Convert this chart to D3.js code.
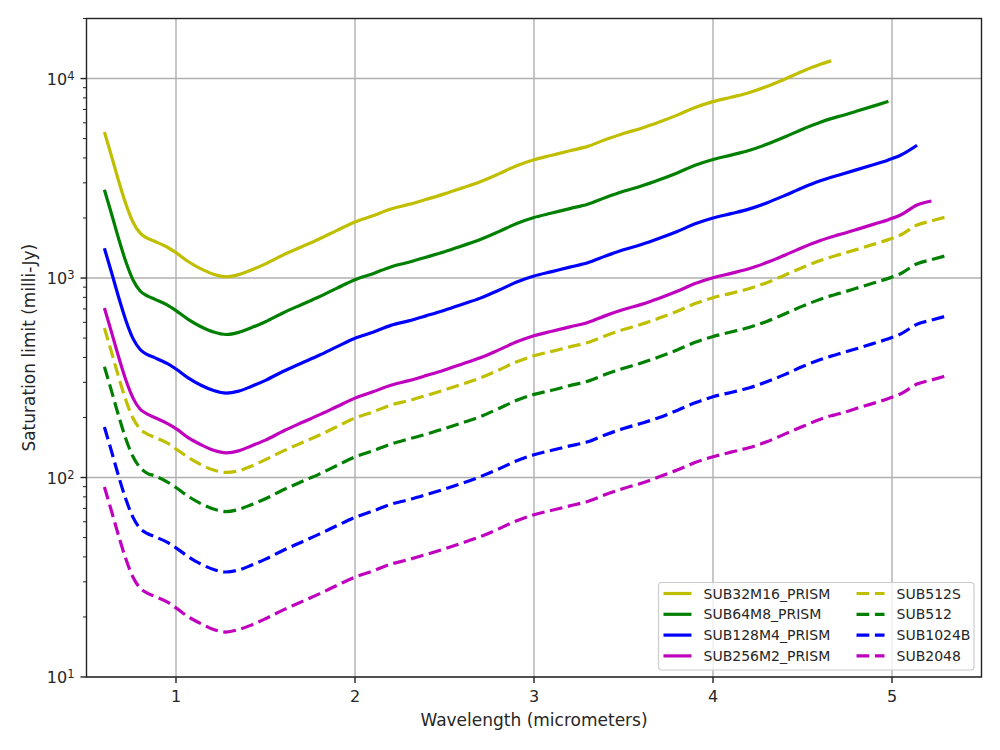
<!DOCTYPE html>
<html lang="en">
<head>
  <meta charset="UTF-8">
  <title>Saturation limit</title>
  <script src="https://d3js.org/d3.v7.min.js"></script>
  <style>
    body { margin:0; background:white; font-family:"DejaVu Sans", sans-serif; }
    .grid line { stroke:#b0b0b0; stroke-width:1.4px; }
    .tick-label { font-size:16px; fill:#262626; }
    .axis-label { font-size:17px; fill:#262626; }
    .legend-text { font-size:14px; fill:#262626; }
  </style>
</head>
<body>
<div id="chart"></div>
<script>
// shared wavelength grid (micrometers), each series stops where its array ends
var wavelength = [0.60, 0.64, 0.68, 0.72, 0.76, 0.80, 0.84, 0.88, 0.95, 1.00,
  1.07, 1.14, 1.21, 1.28, 1.35, 1.42, 1.50, 1.60, 1.70, 1.80,
  1.90, 2.00, 2.10, 2.20, 2.30, 2.40, 2.50, 2.60, 2.70, 2.80,
  2.90, 3.00, 3.10, 3.20, 3.30, 3.40, 3.50, 3.60, 3.70, 3.80,
  3.90, 4.00, 4.10, 4.20, 4.30, 4.40, 4.50, 4.60, 4.66, 4.70,
  4.80, 4.90, 4.98, 5.05, 5.14, 5.22, 5.30];

// saturation limits (milli-Jy)
var sub32m16 = [5400, 4080, 3060, 2350, 1905, 1678, 1584, 1528, 1431, 1340,
  1207, 1112, 1045, 1015, 1040, 1097, 1178, 1306, 1432, 1570,
  1734, 1910, 2051, 2217, 2339, 2483, 2642, 2831, 3040, 3319,
  3648, 3920, 4127, 4345, 4571, 4943, 5308, 5636, 6056, 6556,
  7161, 7660, 8054, 8492, 9120, 9922, 10870, 11780, 12270];
var sub64m8 = [2770, 2093, 1570, 1206, 977, 861, 813, 784, 734, 687,
  619, 570, 536, 521, 534, 563, 604, 670, 735, 805,
  890, 980, 1052, 1137, 1200, 1274, 1355, 1452, 1560, 1703,
  1871, 2011, 2117, 2229, 2345, 2536, 2723, 2891, 3107, 3363,
  3674, 3930, 4132, 4356, 4679, 5090, 5576, 6043, 6295, 6443,
  6849, 7295, 7685];
var sub128m4 = [1409, 1065, 799, 613, 497, 438, 413, 399, 373, 350,
  315, 290, 273, 265, 271, 286, 307, 341, 374, 410,
  453, 499, 535, 579, 610, 648, 690, 739, 793, 866,
  952, 1023, 1077, 1134, 1193, 1290, 1385, 1471, 1581, 1711,
  1869, 1999, 2102, 2216, 2380, 2590, 2837, 3075, 3202, 3278,
  3484, 3711, 3910, 4137, 4630];
var sub256m2 = [707, 534, 401, 308, 250, 220, 208, 200, 187, 176,
  158, 146, 137, 133, 136, 144, 154, 171, 188, 206,
  227, 250, 269, 290, 306, 325, 346, 371, 398, 435,
  478, 514, 541, 569, 599, 648, 695, 738, 793, 859,
  938, 1003, 1055, 1112, 1195, 1300, 1424, 1543, 1607, 1645,
  1749, 1863, 1962, 2076, 2324, 2434];
var sub512s = [562, 424, 318, 244, 198, 175, 165, 159, 149, 139,
  126, 116, 109, 106, 108, 114, 123, 136, 149, 163,
  180, 199, 213, 231, 243, 258, 275, 294, 316, 345,
  379, 408, 429, 452, 475, 514, 552, 586, 630, 682,
  745, 797, 838, 883, 948, 1032, 1130, 1225, 1276, 1306,
  1388, 1479, 1558, 1648, 1845, 1932, 2023];
var sub512 = [359, 271, 203, 156, 127, 112, 105, 102, 95.2, 89.1,
  80.3, 73.9, 69.5, 67.5, 69.2, 73.0, 78.3, 86.8, 95.2, 104,
  115, 127, 136, 147, 156, 165, 176, 188, 202, 221,
  243, 261, 274, 289, 304, 329, 353, 375, 403, 436,
  476, 509, 536, 565, 606, 660, 723, 783, 816, 835,
  888, 946, 996, 1054, 1180, 1236, 1293];
var sub1024b = [179, 135, 101, 77.8, 63.1, 55.5, 52.4, 50.6, 47.4, 44.4,
  40.0, 36.8, 34.6, 33.6, 34.4, 36.3, 39.0, 43.2, 47.4, 52.0,
  57.4, 63.2, 67.9, 73.4, 77.4, 82.2, 87.5, 93.7, 101, 110,
  121, 130, 137, 144, 151, 164, 176, 187, 200, 217,
  237, 254, 267, 281, 302, 328, 360, 390, 406, 416,
  442, 471, 496, 525, 587, 615, 644];
var sub2048 = [89.6, 67.7, 50.8, 39.0, 31.6, 27.9, 26.3, 25.4, 23.8, 22.2,
  20.0, 18.5, 17.3, 16.8, 17.3, 18.2, 19.6, 21.7, 23.8, 26.1,
  28.8, 31.7, 34.0, 36.8, 38.8, 41.2, 43.9, 47.0, 50.5, 55.1,
  60.6, 65.1, 68.5, 72.1, 75.9, 82.1, 88.1, 93.6, 101, 109,
  119, 127, 134, 141, 151, 165, 180, 196, 204, 208,
  222, 236, 249, 263, 294, 308, 323];

var seriesNames = ["SUB32M16_PRISM", "SUB64M8_PRISM", "SUB128M4_PRISM", "SUB256M2_PRISM",
  "SUB512S", "SUB512", "SUB1024B", "SUB2048"];
var seriesValues = [sub32m16, sub64m8, sub128m4, sub256m2, sub512s, sub512, sub1024b, sub2048];
var seriesColours = ["#bfbf00", "#008000", "#0000ff", "#bf00bf",
  "#bfbf00", "#008000", "#0000ff", "#bf00bf"];
var seriesDashed = [false, false, false, false, true, true, true, true];

var xTicks = [1, 2, 3, 4, 5];
var yTickExponents = [1, 2, 3, 4];

// figure and axes size
var width = 1000, height = 750;
var margin = {left: 86.5, top: 18.5, right: 18.5, bottom: 73};
var plotW = width - margin.left - margin.right;
var plotH = height - margin.top - margin.bottom;

var xScale = d3.scaleLinear().domain([0.5, 5.5]).range([0, plotW]);
var yScale = d3.scaleLog().domain([10, 20000]).range([plotH, 0]);

var svg = d3.select("#chart").append("svg")
  .attr("width", width)
  .attr("height", height);

var plot = svg.append("g")
  .attr("transform", "translate(" + margin.left + "," + margin.top + ")");

// clip lines to the axes box
plot.append("clipPath").attr("id", "clip")
  .append("rect").attr("width", plotW).attr("height", plotH);

// minor log ticks for y
var minorTicks = [];
yTickExponents.forEach(function(e) {
  for (var k = 2; k <= 9; k++) {
    var v = k * Math.pow(10, e);
    if (v <= 20000) minorTicks.push(v);
  }
});
var majorY = yTickExponents.map(function(e) { return Math.pow(10, e); });

// grid lines
var grid = plot.append("g").attr("class", "grid");
grid.selectAll(".gx").data(xTicks).enter().append("line")
  .attr("x1", function(d) { return xScale(d); })
  .attr("x2", function(d) { return xScale(d); })
  .attr("y1", 0).attr("y2", plotH);
grid.selectAll(".gy").data(majorY).enter().append("line")
  .attr("x1", 0).attr("x2", plotW)
  .attr("y1", function(d) { return yScale(d); })
  .attr("y2", function(d) { return yScale(d); });

// the curves
var line = d3.line()
  .x(function(d) { return xScale(d[0]); })
  .y(function(d) { return yScale(d[1]); })
  .curve(d3.curveMonotoneX);

var series = seriesNames.map(function(name, i) {
  return {
    name: name,
    colour: seriesColours[i],
    dashed: seriesDashed[i],
    points: seriesValues[i].map(function(v, j) { return [wavelength[j], v]; })
  };
});

plot.append("g").attr("clip-path", "url(#clip)")
  .selectAll("path").data(series).enter().append("path")
  .attr("d", function(d) { return line(d.points); })
  .attr("fill", "none")
  .attr("stroke", function(d) { return d.colour; })
  .attr("stroke-width", 3.2)
  .attr("stroke-dasharray", function(d) { return d.dashed ? "12.8,5.6" : null; })
  .attr("stroke-linejoin", "round");

// spines
plot.append("rect")
  .attr("width", plotW).attr("height", plotH)
  .attr("fill", "none").attr("stroke", "#222").attr("stroke-width", 1.4);

// x ticks and labels
var xAxis = plot.append("g").attr("transform", "translate(0," + plotH + ")");
xAxis.selectAll("line").data(xTicks).enter().append("line")
  .attr("x1", function(d) { return xScale(d); })
  .attr("x2", function(d) { return xScale(d); })
  .attr("y1", 0).attr("y2", 6)
  .attr("stroke", "#222").attr("stroke-width", 1.4);
xAxis.selectAll("text").data(xTicks).enter().append("text")
  .attr("class", "tick-label")
  .attr("x", function(d) { return xScale(d); })
  .attr("y", 25)
  .attr("text-anchor", "middle")
  .text(function(d) { return d; });

// y ticks, minor and major
var yAxis = plot.append("g");
yAxis.selectAll(".minor").data(minorTicks).enter().append("line")
  .attr("x1", -3.5).attr("x2", 0)
  .attr("y1", function(d) { return yScale(d); })
  .attr("y2", function(d) { return yScale(d); })
  .attr("stroke", "#222").attr("stroke-width", 1);
yAxis.selectAll(".major").data(majorY).enter().append("line")
  .attr("x1", -6).attr("x2", 0)
  .attr("y1", function(d) { return yScale(d); })
  .attr("y2", function(d) { return yScale(d); })
  .attr("stroke", "#222").attr("stroke-width", 1.4);
var yLabels = yAxis.selectAll(".ylab").data(yTickExponents).enter().append("text")
  .attr("class", "tick-label")
  .attr("x", -12)
  .attr("y", function(e) { return yScale(Math.pow(10, e)) + 6; })
  .attr("text-anchor", "end");
yLabels.append("tspan").text("10");
yLabels.append("tspan")
  .attr("dy", -5)
  .attr("font-size", "11.5px")
  .text(function(e) { return e; });

// axis titles
svg.append("text").attr("class", "axis-label")
  .attr("x", margin.left + plotW / 2)
  .attr("y", 726)
  .attr("text-anchor", "middle")
  .text("Wavelength (micrometers)");
svg.append("text").attr("class", "axis-label")
  .attr("transform", "translate(35," + (margin.top + plotH / 2) + ") rotate(-90)")
  .attr("text-anchor", "middle")
  .text("Saturation limit (milli-Jy)");

// legend, two columns of four
var legend = svg.append("g").attr("transform", "translate(658.5,582.5)");
legend.append("rect")
  .attr("width", 315.5).attr("height", 87.5)
  .attr("rx", 3).attr("ry", 3)
  .attr("fill", "white").attr("fill-opacity", 0.8)
  .attr("stroke", "#cccccc").attr("stroke-width", 1.2);

var items = legend.selectAll(".item").data(series).enter().append("g")
  .attr("transform", function(d, i) {
    var col = Math.floor(i / 4), row = i % 4;
    return "translate(" + (col === 0 ? 5 : 198) + "," + (11 + row * 20.8) + ")";
  });
items.append("line")
  .attr("x1", 0).attr("x2", 28)
  .attr("stroke", function(d) { return d.colour; })
  .attr("stroke-width", 3.2)
  .attr("stroke-dasharray", function(d) { return d.dashed ? "12.8,5.6" : null; });
items.append("text")
  .attr("class", "legend-text")
  .attr("x", 40)
  .attr("dy", "0.36em")
  .text(function(d) { return d.name; });
</script>
</body>
</html>
